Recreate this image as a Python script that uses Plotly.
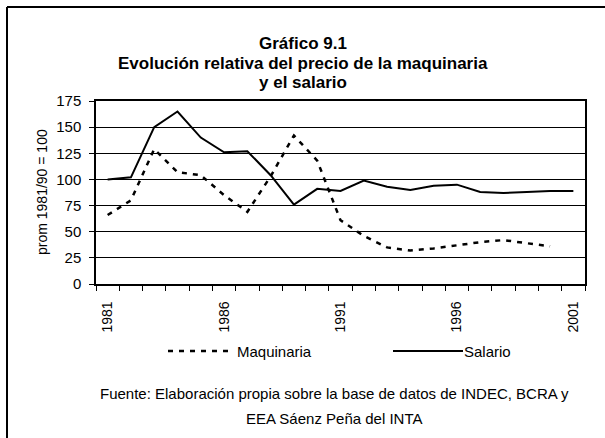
import plotly.graph_objects as go

years = list(range(1981, 2002))
salario = [100, 102, 150, 165, 140, 126, 127, 104, 76, 91, 89, 99, 93, 90, 94, 95, 88, 87, 88, 89, 89]
maquinaria = [66, 80, 129, 107, 104, 85, 69, 103, 142, 118, 61, 46, 35, 32, 34, 37, 40, 42, 39, 36, None]
label_years = [1981, 1986, 1991, 1996, 2001]
title_lines = ["Gráfico 9.1", "Evolución relativa del precio de la maquinaria", "y el salario"]
source_lines = ["Fuente: Elaboración propia sobre la base de datos de INDEC, BCRA y",
                "EEA Sáenz Peña del INTA"]

FONT = "Liberation Sans, Arial, sans-serif"
W, H = 605, 438
L, R, T, B = 96, 20, 101, 154
PW, PH = W - L - R, H - T - B


def px(x):
    return (x - L) / PW


def py(y):
    return (H - B - y) / PH


fig = go.Figure()
fig.add_trace(go.Scatter(x=years, y=maquinaria, mode="lines", name="Maquinaria",
                         line=dict(color="black", width=2.5, dash="5px,6px"),
                         showlegend=False))
fig.add_trace(go.Scatter(x=years, y=salario, mode="lines", name="Salario",
                         line=dict(color="black", width=2),
                         showlegend=False))

annotations = []
for t, yy in zip(title_lines, [43, 63, 83]):
    annotations.append(dict(text="<b>" + t + "</b>", x=px(303), y=py(yy), xref="paper", yref="paper",
                            showarrow=False, xanchor="center", yanchor="middle",
                            font=dict(family=FONT, size=17, color="black")))
for t, yy in zip(source_lines, [393, 418]):
    annotations.append(dict(text=t, x=px(334), y=py(yy), xref="paper", yref="paper",
                            showarrow=False, xanchor="center", yanchor="middle",
                            font=dict(family=FONT, size=15, color="black")))
annotations.append(dict(text="prom 1981/90 = 100", x=px(42), y=py(192), xref="paper", yref="paper",
                        showarrow=False, textangle=-90, xanchor="center", yanchor="middle",
                        font=dict(family=FONT, size=14, color="black")))
annotations.append(dict(text="Maquinaria", x=px(235), y=py(351), xref="paper", yref="paper",
                        showarrow=False, xanchor="left", yanchor="middle",
                        font=dict(family=FONT, size=15, color="black")))
annotations.append(dict(text="Salario", x=px(462), y=py(351), xref="paper", yref="paper",
                        showarrow=False, xanchor="left", yanchor="middle",
                        font=dict(family=FONT, size=15, color="black")))

shapes = [
    dict(type="line", xref="paper", yref="paper", x0=px(168), x1=px(234), y0=py(351), y1=py(351),
         line=dict(color="black", width=2.5, dash="5px,6px")),
    dict(type="line", xref="paper", yref="paper", x0=px(393), x1=px(463), y0=py(351), y1=py(351),
         line=dict(color="black", width=2)),
    dict(type="line", xref="paper", yref="paper", x0=px(7), x1=px(610), y0=py(7), y1=py(7),
         line=dict(color="black", width=2)),
    dict(type="line", xref="paper", yref="paper", x0=px(7), x1=px(7), y0=py(7), y1=py(445),
         line=dict(color="black", width=2)),
]

fig.update_layout(
    width=W, height=H,
    margin=dict(l=L, r=R, t=T, b=B),
    paper_bgcolor="white", plot_bgcolor="white",
    font=dict(family=FONT, size=14, color="black"),
    annotations=annotations,
    shapes=shapes,
    showlegend=False,
    xaxis=dict(range=[1980.5, 2001.5], tickvals=label_years, ticktext=[str(y) for y in label_years],
               tickangle=-90, ticks="outside", ticklen=0, showgrid=False, zeroline=False,
               showline=True, linecolor="black", linewidth=1.5, mirror=True,
               ticklabelstandoff=10,
               tickfont=dict(family=FONT, size=14, color="black"),
               minor=dict(tickvals=[y - 0.5 for y in years] + [2001.5], ticks="outside",
                          ticklen=5, tickcolor="black", tickwidth=1, showgrid=False)),
    yaxis=dict(range=[0, 175], dtick=25, ticks="outside", ticklen=5, tickcolor="black",
               showgrid=True, gridcolor="black", gridwidth=1, zeroline=False,
               showline=True, linecolor="black", linewidth=1.5, mirror=True,
               ticklabelstandoff=5,
               tickfont=dict(family=FONT, size=15, color="black")),
)

fig.write_html("out.html", config={"displayModeBar": False},
               post_script="document.body.style.margin='0px';")
